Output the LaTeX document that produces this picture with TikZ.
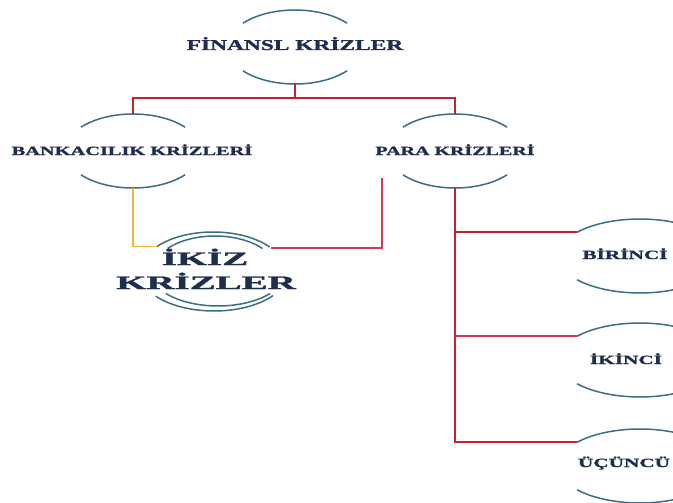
\documentclass[tikz,border=0pt]{standalone}
\usepackage{fontspec}
\setmainfont{Liberation Serif}[BoldFeatures={FakeBold=1.2}]
\usepackage{graphicx}
\usetikzlibrary{shapes.geometric}
\definecolor{txt}{HTML}{1F2D4F}
\definecolor{arcc}{HTML}{3C6E86}
\definecolor{redA}{HTML}{C9202E}
\definecolor{redB}{HTML}{D4375A}
\definecolor{yel}{HTML}{F6B737}
\tikzset{
  oval/.style={ellipse, draw=none, inner sep=0pt, outer sep=0pt},
  lab/.style={text=txt, inner sep=0pt, anchor=base, font=\bfseries},
  arcline/.style={draw=arcc, line width=1.5pt},
  redline/.style={draw=redA, line width=1.5pt},
  pinkline/.style={draw=redB, line width=1.5pt},
  yelline/.style={draw=yel, line width=1.5pt},
}
% node, rx, ry, angle
\newcommand{\ovarcs}[4]{%
  \pgfmathsetmacro{\aA}{#4}\pgfmathsetmacro{\aB}{180-#4}%
  \pgfmathsetmacro{\aC}{180+#4}\pgfmathsetmacro{\aD}{360-#4}%
  \draw[arcline] ([shift={(\aA:#2 and #3)}]#1.center) arc[start angle=\aA, end angle=\aB, x radius=#2, y radius=#3];
  \draw[arcline] ([shift={(\aC:#2 and #3)}]#1.center) arc[start angle=\aC, end angle=\aD, x radius=#2, y radius=#3];}
\begin{document}
\begin{tikzpicture}[x=1pt,y=1pt]
\useasboundingbox (0,0) rectangle (673,-503);
\clip (0,0) rectangle (673,-503);
\fill[white] (0,0) rectangle (673,-503);

% ovals
\node[oval, minimum width=136pt, minimum height=74pt] (fin) at (295,-47) {};
\node[oval, minimum width=136pt, minimum height=74pt] (bank) at (133,-151) {};
\node[oval, minimum width=136pt, minimum height=74pt] (para) at (455,-151) {};
\node[oval, minimum width=144pt, minimum height=78pt] (ikz) at (213,-271) {};
\node[oval, minimum width=164pt, minimum height=74pt] (bir) at (640,-256) {};
\node[oval, minimum width=164pt, minimum height=74pt] (iki) at (640,-360) {};
\node[oval, minimum width=164pt, minimum height=74pt] (ucu) at (640,-466) {};

\ovarcs{fin}{68pt}{37pt}{40}
\ovarcs{bank}{68pt}{37pt}{40}
\ovarcs{para}{68pt}{37pt}{40}
\ovarcs{bir}{82pt}{37pt}{40}
\ovarcs{iki}{82pt}{37pt}{40}
\ovarcs{ucu}{82pt}{37pt}{40}

% double arcs of ikiz
\draw[arcline] ([shift={(141:72pt and 39pt)}]ikz.center) arc[start angle=141, end angle=38, x radius=72pt, y radius=39pt];
\draw[arcline] ([shift={(140:62pt and 35pt)}]ikz.center) ++(2pt,0) arc[start angle=140, end angle=40, x radius=62pt, y radius=35pt];
\draw[arcline] ([shift={(219:75pt and 40pt)}]ikz.center) ++(1pt,0) arc[start angle=219, end angle=322, x radius=75pt, y radius=40pt];
\draw[arcline] ([shift={(220:68pt and 35pt)}]ikz.center) ++(5pt,0) arc[start angle=220, end angle=320, x radius=68pt, y radius=35pt];

% texts
\node[lab, font=\bfseries\fontsize{15}{18}\selectfont] (fint) at (295,-50) {\scalebox{1.56}[1]{FİNANSL KRİZLER}};
\node[lab, font=\bfseries\fontsize{12.5}{15}\selectfont] (bankt) at (132,-155) {\scalebox{1.63}[1]{BANKACILIK KRİZLERİ}};
\node[lab, font=\bfseries\fontsize{12.5}{15}\selectfont] (parat) at (455,-155) {\scalebox{1.6}[1]{PARA KRİZLERİ}};
\node[lab, font=\bfseries\fontsize{19}{23}\selectfont] (ikzt1) at (205,-265) {\scalebox{2.05}[1]{İKİZ}};
\node[lab, font=\bfseries\fontsize{19}{23}\selectfont] (ikzt2) at (206,-289) {\scalebox{2.05}[1]{KRİZLER}};
\node[lab, font=\bfseries\fontsize{12.5}{15}\selectfont] (birt) at (625,-259) {\scalebox{1.7}[1]{BİRİNCİ}};
\node[lab, font=\bfseries\fontsize{12.5}{15}\selectfont] (ikit) at (626,-364) {\scalebox{1.7}[1]{İKİNCİ}};
\node[lab, font=\bfseries\fontsize{12.5}{15}\selectfont] (ucut) at (624,-467) {\scalebox{1.7}[1]{ÜÇÜNCÜ}};

% connector points
\coordinate (hub) at (295,-98);
\coordinate (pfree) at (382,-178);
\coordinate (ikzL) at ([shift={(141:72pt and 39pt)}]ikz.center);
\coordinate (ikzR) at ([shift={(36:72pt and 39pt)}]ikz.center);
\coordinate (birL) at ([shift={(140:82pt and 37pt)}]bir.center);
\coordinate (ikiL) at ([shift={(140:82pt and 37pt)}]iki.center);
\coordinate (ucuL) at ([shift={(140:82pt and 37pt)}]ucu.center);

% connectors
\draw[redline] (fin.south) -- (hub);
\draw[redline] (bank.north) |- (hub) -| (para.north);
\draw[yelline] (bank.south) |- (ikzL);
\draw[pinkline] (pfree) |- (ikzR);
\draw[redline] (para.south) |- (ucuL);
\draw[redline] (para.south |- birL) -- (birL);
\draw[pinkline] (para.south |- ikiL) -- (ikiL);
\end{tikzpicture}
\end{document}
